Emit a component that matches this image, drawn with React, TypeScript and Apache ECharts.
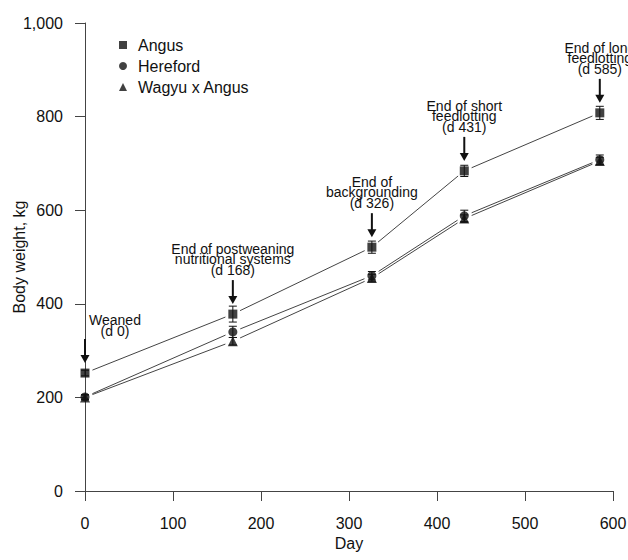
import React, { useEffect, useRef } from "react";
import * as echarts from "echarts";

const days = [0, 168, 326, 431, 585];
const angus = [252, 378, 521, 684, 808];
const hereford = [201, 340, 460, 588, 708];
const wagyu = [200, 320, 455, 582, 705];
const angusErr = [6, 17, 13, 12, 14];
const herefordErr = [5, 12, 9, 12, 10];
const wagyuErr = [5, 8, 8, 8, 8];

const annotationDays = [0, 168, 326, 431, 585];
const annotationLabels = [
  "Weaned\n(d 0)",
  "End of postweaning\nnutritional systems\n(d 168)",
  "End of\nbackgrounding\n(d 326)",
  "End of short\nfeedlotting\n(d 431)",
  "End of long\nfeedlotting\n(d 585)",
];

const xTicks = [0, 100, 200, 300, 400, 500, 600];
const yTicks = [0, 200, 400, 600, 800, 1000];

const FONT = "Liberation Sans, Arial, sans-serif";
const INK = "#111";

function segments(vals: number[]) {
  return days.slice(1).map((d, i) => [days[i], vals[i], d, vals[i + 1]]);
}
function errData(vals: number[], errs: number[]) {
  return days.map((d, i) => [d, vals[i] - errs[i], vals[i] + errs[i]]);
}

const lineSeries = (vals: number[]) => ({
  type: "custom",
  silent: true,
  encode: { x: [0, 2], y: [1, 3] },
  data: segments(vals),
  z: 2,
  renderItem: (params: any, api: any) => {
    const p1 = api.coord([api.value(0), api.value(1)]);
    const p2 = api.coord([api.value(2), api.value(3)]);
    const dx = p2[0] - p1[0];
    const dy = p2[1] - p1[1];
    const len = Math.sqrt(dx * dx + dy * dy);
    const g = 8;
    const ux = dx / len;
    const uy = dy / len;
    return {
      type: "line",
      shape: {
        x1: p1[0] + ux * g,
        y1: p1[1] + uy * g,
        x2: p2[0] - ux * g,
        y2: p2[1] - uy * g,
      },
      style: { stroke: "#444", lineWidth: 1 },
    };
  },
});

const errSeries = (vals: number[], errs: number[]) => ({
  type: "custom",
  silent: true,
  encode: { x: 0, y: [1, 2] },
  data: errData(vals, errs),
  z: 3,
  renderItem: (params: any, api: any) => {
    const lo = api.coord([api.value(0), api.value(1)]);
    const hi = api.coord([api.value(0), api.value(2)]);
    const w = 4;
    const st = { stroke: INK, lineWidth: 1 };
    return {
      type: "group",
      children: [
        { type: "line", shape: { x1: lo[0], y1: lo[1], x2: hi[0], y2: hi[1] }, style: st },
        { type: "line", shape: { x1: lo[0] - w, y1: lo[1], x2: lo[0] + w, y2: lo[1] }, style: st },
        { type: "line", shape: { x1: hi[0] - w, y1: hi[1], x2: hi[0] + w, y2: hi[1] }, style: st },
      ],
    };
  },
});

export default function App() {
  const ref = useRef<HTMLDivElement>(null);
  useEffect(() => {
    document.body.style.margin = "0";
    const chart = echarts.init(ref.current!, null, { renderer: "svg" });
    const annData = annotationDays.map((d) => [d, angus[days.indexOf(d)]]);
    chart.setOption({
      animation: false,
      backgroundColor: "#fff",
      textStyle: { fontFamily: FONT },
      grid: { left: 85, right: 15, top: 23, bottom: 69, outerBoundsMode: "none", containLabel: false },
      legend: {
        orient: "vertical",
        left: 114,
        top: 32,
        itemWidth: 8,
        itemHeight: 8,
        itemGap: 5,
        textStyle: { fontSize: 16, color: INK, fontFamily: FONT, padding: [0, 0, 0, 6] },
        data: [
          { name: "Angus", icon: "rect" },
          { name: "Hereford", icon: "circle" },
          { name: "Wagyu x Angus", icon: "triangle" },
        ],
      },
      xAxis: {
        type: "value",
        min: xTicks[0],
        max: xTicks[xTicks.length - 1],
        interval: 100,
        name: "Day",
        nameLocation: "middle",
        nameGap: 44,
        nameMoveOverlap: false,
        nameTextStyle: { fontSize: 16, color: INK, fontFamily: FONT },
        axisLine: { show: true, lineStyle: { color: "#444", width: 1 } },
        axisTick: { show: true, length: 10, lineStyle: { color: "#444" } },
        axisLabel: { fontSize: 16, color: INK, margin: 24, fontFamily: FONT },
        splitLine: { show: false },
      },
      yAxis: {
        type: "value",
        min: yTicks[0],
        max: yTicks[yTicks.length - 1],
        interval: 200,
        name: "Body weight, kg",
        nameLocation: "middle",
        nameGap: 58,
        nameMoveOverlap: false,
        nameTextStyle: { fontSize: 16, color: INK, fontFamily: FONT },
        axisLine: { show: true, lineStyle: { color: "#444", width: 1 } },
        axisTick: { show: true, length: 10, lineStyle: { color: "#444" } },
        axisLabel: {
          fontSize: 16,
          color: INK,
          margin: 22,
          fontFamily: FONT,
          formatter: (v: number) => v.toLocaleString("en-US"),
        },
        splitLine: { show: false },
      },
      series: [
        lineSeries(angus),
        lineSeries(hereford),
        lineSeries(wagyu),
        errSeries(angus, angusErr),
        errSeries(hereford, herefordErr),
        errSeries(wagyu, wagyuErr),
        {
          name: "Wagyu x Angus",
          type: "scatter",
          symbol: "triangle",
          symbolSize: 10,
          itemStyle: { color: INK },
          data: days.map((d, i) => [d, wagyu[i]]),
          z: 4,
        },
        {
          name: "Hereford",
          type: "scatter",
          symbol: "circle",
          symbolSize: 9,
          itemStyle: { color: INK },
          data: days.map((d, i) => [d, hereford[i]]),
          z: 5,
        },
        {
          name: "Angus",
          type: "scatter",
          symbol: "rect",
          symbolSize: 9,
          itemStyle: { color: INK },
          data: days.map((d, i) => [d, angus[i]]),
          z: 6,
        },
        {
          type: "custom",
          silent: true,
          encode: { x: 0, y: 1 },
          data: annData,
          z: 7,
          clip: false,
          renderItem: (params: any, api: any) => {
            const p = api.coord([api.value(0), api.value(1)]);
            const x = p[0];
            const bottom = p[1] - 10;
            const top = bottom - 24;
            const idx = params.dataIndex;
            const tx = idx === 0 ? x + 30 : x;
            const ty = idx === 0 ? top - 3 : top - 5;
            return {
              type: "group",
              children: [
                {
                  type: "line",
                  shape: { x1: x, y1: top, x2: x, y2: bottom - 6 },
                  style: { stroke: INK, lineWidth: 2 },
                },
                {
                  type: "polygon",
                  shape: { points: [[x - 4.5, bottom - 8], [x + 4.5, bottom - 8], [x, bottom]] },
                  style: { fill: INK },
                },
                {
                  type: "text",
                  x: tx,
                  y: ty,
                  style: {
                    text: annotationLabels[idx],
                    fontSize: 14,
                    lineHeight: 10.5,
                    fontFamily: FONT,
                    fill: INK,
                    align: "center",
                    verticalAlign: "bottom",
                  },
                },
              ],
            };
          },
        },
      ],
    });
    return () => chart.dispose();
  }, []);
  return <div ref={ref} style={{ width: 628, height: 560 }} />;
}
